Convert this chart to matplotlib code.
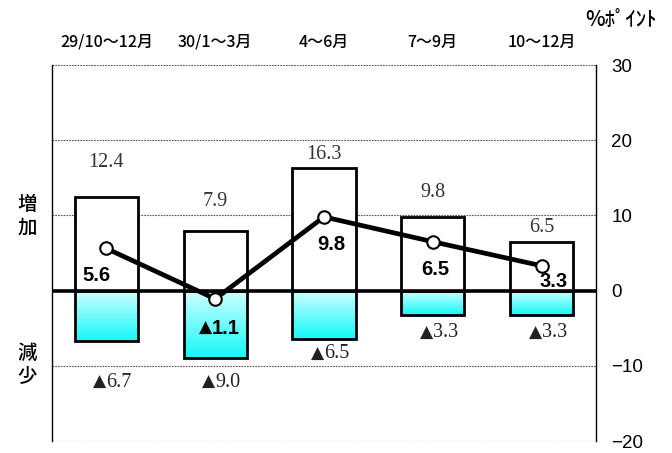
import matplotlib
matplotlib.use("Agg")
import matplotlib.pyplot as plt
import numpy as np

plt.rcParams['font.family'] = ['Noto Sans CJK JP', 'DejaVu Sans']

# Data
periods = ["29/10～12月", "30/1～3月", "4～6月", "7～9月", "10～12月"]
increase = [12.4, 7.9, 16.3, 9.8, 6.5]
decrease = [-6.7, -9.0, -6.5, -3.3, -3.3]
net = [5.6, -1.1, 9.8, 6.5, 3.3]
yticks = [30, 20, 10, 0, -10, -20]

fig = plt.figure(figsize=(6.72, 4.53), dpi=100)
ax = fig.add_axes([52 / 672, 12 / 453, 544 / 672, 376 / 453])
x = np.arange(len(periods))
width = 0.58

ax.set_xlim(-0.5, len(periods) - 0.5)
ax.set_ylim(-20, 30)

# dotted grid
for t in yticks:
    if t != 0:
        ax.axhline(t, color="#555555", lw=0.8, ls=(0, (1.5, 1.0)), zorder=1)

# increase bars (white)
ax.bar(x, increase, width=width, color="white", edgecolor="black", lw=2.0, zorder=2)

# decrease bars with vertical cyan gradient
grad = np.linspace(0, 1, 256).reshape(-1, 1)
cmap = matplotlib.colors.LinearSegmentedColormap.from_list(
    "cy", ["#d2ffff", "#14f8f8"])
dec_bars = ax.bar(x, decrease, width=width, color="none", edgecolor="black",
                  lw=2.0, zorder=3)
for b in dec_bars:
    x0, y0 = b.get_x(), b.get_y()
    w, h = b.get_width(), b.get_height()
    im = ax.imshow(grad, cmap=cmap, aspect="auto", zorder=2.5,
                   extent=[x0, x0 + w, y0 + h, y0], origin="upper")
    im.set_clip_path(b)

ax.axhline(0, color="black", lw=2.6, zorder=4)

# net line
ax.plot(x, net, color="black", lw=3.4, marker="o", markersize=9,
        markerfacecolor="white", markeredgecolor="black", markeredgewidth=1.5,
        zorder=6)

serif = ["Liberation Serif", "DejaVu Serif"]


def neg_label(xc, y, v, size, weight, fam, color):
    """Draw '▲n.n' with the triangle ending at xc and the digits starting there."""
    ax.text(xc, y, "▲", ha="right", va="center", fontsize=size * 0.85,
            family=["DejaVu Sans"], color=color, zorder=8)
    ax.text(xc, y, f"{abs(v):.1f}", ha="left", va="center", fontsize=size,
            fontweight=weight, family=fam, color=color, zorder=8)


# increase labels
inc_pos = [17.0, 11.8, 18.1, 13.1, 8.4]
for xi, v, yp in zip(x, increase, inc_pos):
    ax.text(xi, yp, f"{v:.1f}", ha="center", va="center", fontsize=14.5,
            family=serif, color="#333333", zorder=7)

# decrease labels
dec_pos = [-12.2, -12.2, -8.4, -5.6, -5.6]
for xi, v, yp in zip(x, decrease, dec_pos):
    neg_label(xi, yp, v, 14.5, "normal", serif, "#222222")

# net labels
net_off = [(-0.09, 2.0), (-0.03, -5.0), (0.07, 6.1), (0.02, 2.8), (0.11, 1.2)]
for xi, v, (dx, yp) in zip(x, net, net_off):
    if v < 0:
        neg_label(xi + dx, yp, v, 14.5, "bold", ["Liberation Sans"], "black")
    else:
        ax.text(xi + dx, yp, f"{v:.1f}", ha="center", va="center", fontsize=14.5,
                fontweight="bold", family=["Liberation Sans", "DejaVu Sans"],
                color="black", zorder=8)

# axes styling
ax.set_xticks([])
ax.yaxis.tick_right()
ax.set_yticks(yticks)
ax.set_yticklabels([str(t).replace("-", "−") for t in yticks],
                   family=["Liberation Sans", "DejaVu Sans"], fontsize=13.5)
ax.tick_params(axis="y", length=0, pad=11)
for s in ["top", "bottom"]:
    ax.spines[s].set_visible(False)
for s in ["left", "right"]:
    ax.spines[s].set_linewidth(1.0)

# category labels along the top
for xi, p in zip(x, periods):
    ax.text(xi, 33.0, p, ha="center", va="center", fontsize=11.5, color="black",
            fontweight="medium")

fig.text(621 / 672, 1 - 19 / 453, "%ﾎﾟｲﾝﾄ", ha="center", va="center",
         fontsize=15, fontweight="medium",
         family=["Noto Sans CJK JP", "DejaVu Sans"])

for ch, ypx in [("増", 204), ("加", 228), ("減", 353), ("少", 376)]:
    fig.text(27 / 672, 1 - ypx / 453, ch, ha="center", va="center",
             fontsize=14, fontweight="medium")

fig.savefig("out.png", dpi=100)
